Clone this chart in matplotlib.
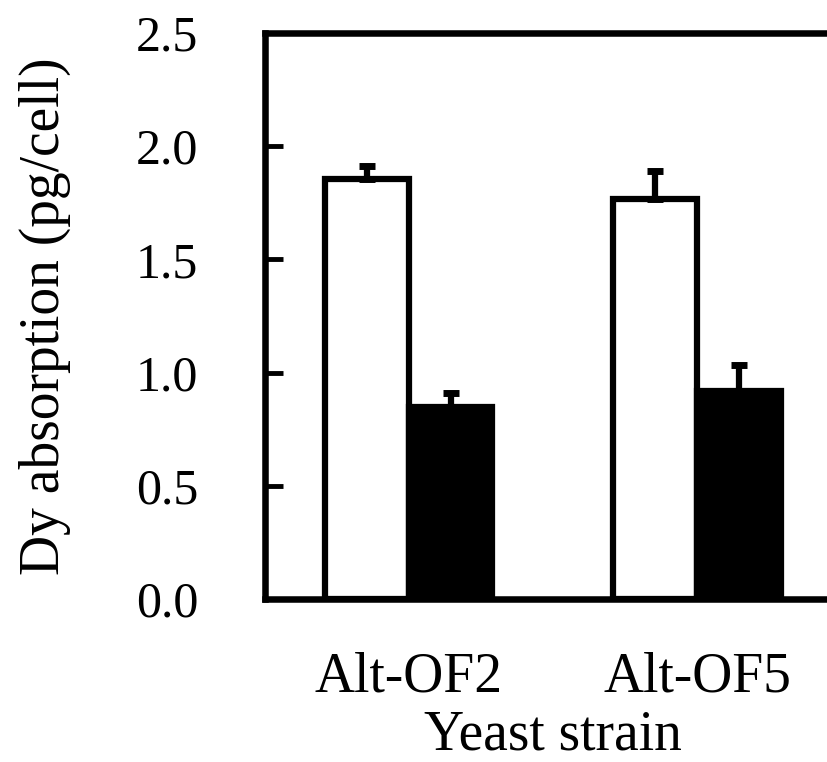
import numpy as np
import matplotlib
matplotlib.use("Agg")
import matplotlib.pyplot as plt

plt.rcParams['font.family'] = ['Liberation Serif', 'DejaVu Serif']

# data
strains = ['Alt-OF2', 'Alt-OF5']
white_vals = [1.855, 1.765]
white_err = [0.058, 0.127]
black_vals = [0.85, 0.917]
black_err = [0.06, 0.117]

fig = plt.figure(figsize=(8.28, 7.62), dpi=100)
# axes runs slightly past the right edge like the original crop
ax = fig.add_axes([0.3200, 0.2139, 0.6957, 0.7428])

x = np.arange(len(strains))
w = 0.29
lw = 4.5

ax.bar(x - w / 2, white_vals, w, color='white', edgecolor='black', linewidth=lw, zorder=2)
ax.bar(x + w / 2, black_vals, w, color='black', edgecolor='black', linewidth=lw, zorder=2)

ax.errorbar(x - w / 2, white_vals, yerr=[np.zeros(len(x)), white_err], fmt='none',
            ecolor='black', elinewidth=4.5, capsize=6, capthick=5, zorder=3)
ax.errorbar(x + w / 2, black_vals, yerr=[np.zeros(len(x)), black_err], fmt='none',
            ecolor='black', elinewidth=4.5, capsize=6, capthick=5, zorder=3)

ax.set_xlim(-0.5, 1.5)
ax.set_ylim(0, 2.5)
ax.set_yticks([0, 0.5, 1.0, 1.5, 2.0, 2.5])
ax.set_yticklabels(['0.0', '0.5', '1.0', '1.5', '2.0', '2.5'])
ax.set_xticks(x)
ax.set_xticklabels(strains)

for s in ax.spines.values():
    s.set_linewidth(4.7)

ax.tick_params(axis='y', direction='in', length=13, width=3.5, labelsize=36, pad=48)
ax.tick_params(axis='x', length=0, labelsize=40, pad=38)

ax.set_ylabel('Dy absorption (pg/cell)', fontsize=40, labelpad=47)
ax.set_xlabel('Yeast strain', fontsize=40, labelpad=4)

fig.savefig('out.png', dpi=100)
